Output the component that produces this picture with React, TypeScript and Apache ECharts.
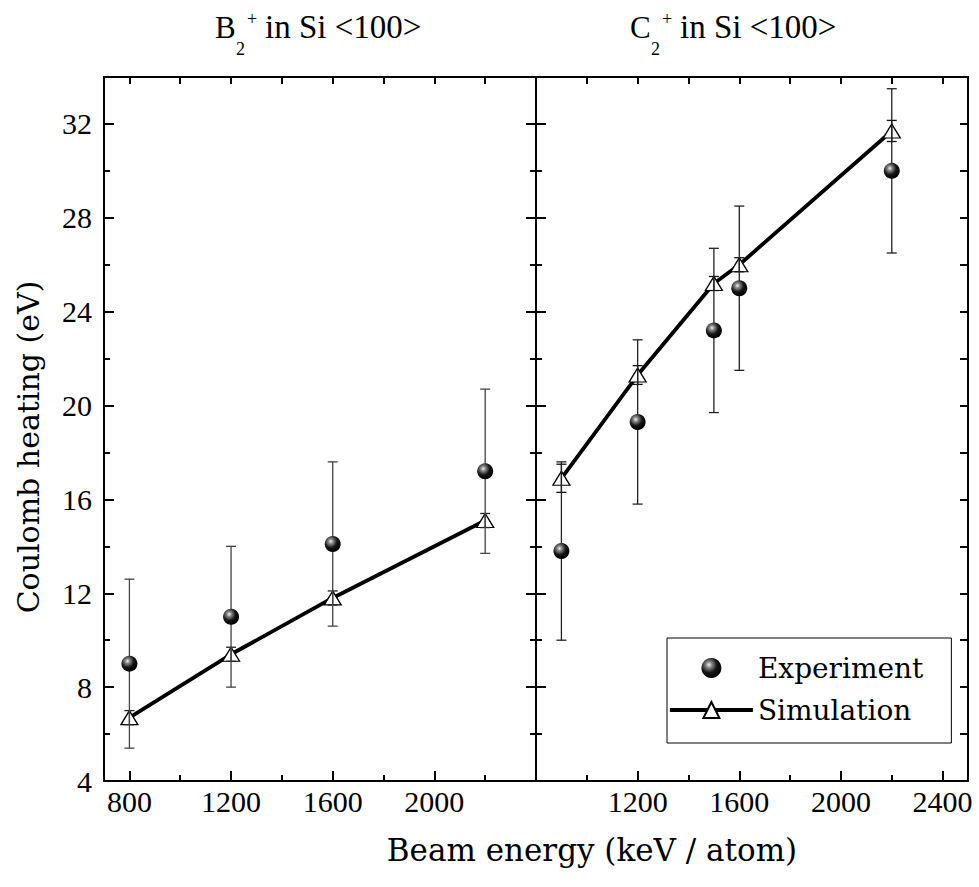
import React, { useEffect, useRef } from 'react';
import * as echarts from 'echarts';

// ---- data: B2+ in Si <100> (left panel) ----
const B_X = [800, 1200, 1600, 2200];
const B_EXP = [9.0, 11.0, 14.1, 17.2];
const B_EXP_ERR = [3.6, 3.0, 3.5, 3.5];
const B_SIM = [6.7, 9.4, 11.8, 15.1];
const B_SIM_ERR = [0.3, 0.3, 0.3, 0.3];

// ---- data: C2+ in Si <100> (right panel) ----
const C_X = [900, 1200, 1500, 1600, 2200];
const C_EXP = [13.8, 19.3, 23.2, 25.0, 30.0];
const C_EXP_ERR = [3.8, 3.5, 3.5, 3.5, 3.5];
const C_SIM = [16.9, 21.3, 25.2, 26.0, 31.7];
const C_SIM_ERR = [0.6, 0.4, 0.3, 0.3, 0.45];

// ---- axes ----
const Y_MIN = 4;
const Y_MAX = 34;
const Y_STEP = 4;
const LEFT_X_RANGE = [700, 2400];
const RIGHT_X_RANGE = [800, 2500];
const X_STEP = 400;

const TITLE_LETTERS = ['B', 'C'];
const TITLE_SUB = '2';
const TITLE_SUP = '+';
const TITLE_REST = 'in Si <100>';
const X_NAME = 'Beam energy (keV / atom)';
const Y_NAME = 'Coulomb heating (eV)';
const LEGEND_NAMES = ['Experiment', 'Simulation'];

const NUM = "'Liberation Serif', 'Times New Roman', serif";
const WORD = "'DejaVu Serif', serif";

const sphere = {
  type: 'radial',
  x: 0.38,
  y: 0.34,
  r: 0.66,
  colorStops: [
    { offset: 0, color: '#f2f2f2' },
    { offset: 0.22, color: '#8a8a8a' },
    { offset: 0.6, color: '#151515' },
    { offset: 1, color: '#000' },
  ],
};

function errData(xs: number[], ys: number[], es: number[]) {
  return xs.map((x, i) => [x, ys[i] - es[i], ys[i] + es[i]]);
}

function errSeries(xi: number, yi: number, data: number[][], color: string, width: number, z: number) {
  return {
    type: 'custom',
    xAxisIndex: xi,
    yAxisIndex: yi,
    z,
    silent: true,
    data,
    encode: { x: 0, y: [1, 2] },
    renderItem: (params: any, api: any) => {
      const x = api.value(0);
      const lo = api.coord([x, api.value(1)]);
      const hi = api.coord([x, api.value(2)]);
      const hw = 5;
      const style = { stroke: color, lineWidth: width };
      return {
        type: 'group',
        children: [
          { type: 'line', shape: { x1: hi[0], y1: hi[1], x2: lo[0], y2: lo[1] }, style },
          { type: 'line', shape: { x1: hi[0] - hw, y1: hi[1], x2: hi[0] + hw, y2: hi[1] }, style },
          { type: 'line', shape: { x1: lo[0] - hw, y1: lo[1], x2: lo[0] + hw, y2: lo[1] }, style },
        ],
      };
    },
  };
}

const axisLine = { show: true, onZero: false, lineStyle: { color: '#000', width: 2 } };

function xAxisDef(grid: number, range: number[], pos: string, labels: boolean, len: number, minorLen: number) {
  return {
    type: 'value',
    gridIndex: grid,
    position: pos,
    min: range[0],
    max: range[1],
    minInterval: X_STEP,
    maxInterval: X_STEP,
    splitNumber: 4,
    axisLine,
    splitLine: { show: false },
    axisTick: { show: true, inside: true, length: len, lineStyle: { color: '#000', width: 2 } },
    minorTick: { show: true, splitNumber: 2, length: minorLen, lineStyle: { color: '#000', width: 2 } },
    axisLabel: {
      show: labels,
      showMinLabel: false,
      showMaxLabel: false,
      margin: 5,
      color: '#000',
      fontFamily: NUM,
      fontSize: 30,
      formatter: (v: number) => String(v),
    },
  };
}

function yAxisDef(grid: number, pos: string, labels: boolean, len: number, minorLen: number) {
  return {
    type: 'value',
    gridIndex: grid,
    position: pos,
    min: Y_MIN,
    max: Y_MAX,
    interval: Y_STEP,
    axisLine,
    splitLine: { show: false },
    axisTick: { show: true, inside: true, length: len, lineStyle: { color: '#000', width: 2 } },
    minorTick: { show: true, splitNumber: 2, length: minorLen, lineStyle: { color: '#000', width: 2 } },
    axisLabel: {
      show: labels,
      showMaxLabel: false,
      margin: 12,
      color: '#000',
      fontFamily: NUM,
      fontSize: 30,
      formatter: (v: number) => String(v),
    },
  };
}

function titleGroup(x0: number, letter: string) {
  const t = (x: number, y: number, text: string, size: number) => ({
    type: 'text',
    x: x0 + x,
    y,
    silent: true,
    style: {
      text,
      fontFamily: NUM,
      fontSize: size,
      fill: '#000',
      align: 'left',
      verticalAlign: 'middle',
    },
  });
  return {
    type: 'group',
    silent: true,
    children: [
      t(0, 27, letter, 31),
      t(21, 49, TITLE_SUB, 18),
      t(32, 19, TITLE_SUP, 18),
      t(50, 27, TITLE_REST, 33),
    ],
  };
}

function simSeries(xi: number, yi: number, xs: number[], ys: number[]) {
  return {
    name: LEGEND_NAMES[1],
    type: 'line',
    xAxisIndex: xi,
    yAxisIndex: yi,
    z: 2,
    data: xs.map((x, i) => [x, ys[i]]),
    symbol: 'triangle',
    symbolSize: [17, 14],
    showAllSymbol: true,
    itemStyle: { color: '#fff', borderColor: '#000', borderWidth: 1.3 },
    lineStyle: { color: '#000', width: 3.8 },
  };
}

function expSeries(xi: number, yi: number, xs: number[], ys: number[]) {
  return {
    name: LEGEND_NAMES[0],
    type: 'scatter',
    xAxisIndex: xi,
    yAxisIndex: yi,
    z: 5,
    data: xs.map((x, i) => [x, ys[i]]),
    symbol: 'circle',
    symbolSize: 16,
    itemStyle: { color: sphere, opacity: 1 },
  };
}

const option: any = {
  animation: false,
  backgroundColor: '#fff',
  grid: [
    { left: 104, top: 77, width: 432, height: 704 },
    { left: 536, top: 77, width: 432, height: 704 },
  ],
  xAxis: [
    xAxisDef(0, LEFT_X_RANGE, 'bottom', true, 10, 6),
    xAxisDef(0, LEFT_X_RANGE, 'top', false, 7, 7),
    xAxisDef(1, RIGHT_X_RANGE, 'bottom', true, 10, 6),
    xAxisDef(1, RIGHT_X_RANGE, 'top', false, 7, 7),
  ],
  yAxis: [
    yAxisDef(0, 'left', true, 10, 6),
    yAxisDef(0, 'right', false, 10, 6),
    yAxisDef(1, 'left', false, 10, 6),
    yAxisDef(1, 'right', false, 8, 8),
  ],
  legend: {
    left: 667,
    top: 638,
    orient: 'vertical',
    selectedMode: false,
    itemWidth: 83,
    itemHeight: 20,
    itemGap: 14,
    padding: [16, 28, 19, 1],
    borderColor: '#000',
    borderWidth: 1,
    borderRadius: 0,
    backgroundColor: '#fff',
    lineStyle: { width: 3.8, color: '#000' },
    textStyle: { fontFamily: WORD, fontSize: 28, color: '#000' },
    data: [{ name: LEGEND_NAMES[0], icon: 'circle' }, { name: LEGEND_NAMES[1] }],
  },
  graphic: [
    titleGroup(215, TITLE_LETTERS[0]),
    titleGroup(630, TITLE_LETTERS[1]),
    {
      type: 'text',
      x: 592,
      y: 850,
      silent: true,
      style: { text: X_NAME, fontFamily: WORD, fontSize: 31, align: 'center', verticalAlign: 'middle', fill: '#000' },
    },
    {
      type: 'text',
      x: 28,
      y: 447,
      rotation: Math.PI / 2,
      silent: true,
      style: { text: Y_NAME, fontFamily: WORD, fontSize: 30, align: 'center', verticalAlign: 'middle', fill: '#000' },
    },
  ],
  series: [
    simSeries(0, 0, B_X, B_SIM),
    errSeries(0, 0, errData(B_X, B_SIM, B_SIM_ERR), '#222', 1.3, 3),
    errSeries(0, 0, errData(B_X, B_EXP, B_EXP_ERR), '#444', 1.3, 4),
    expSeries(0, 0, B_X, B_EXP),
    simSeries(2, 2, C_X, C_SIM),
    errSeries(2, 2, errData(C_X, C_SIM, C_SIM_ERR), '#111', 1.3, 3),
    errSeries(2, 2, errData(C_X, C_EXP, C_EXP_ERR), '#222', 1.3, 4),
    expSeries(2, 2, C_X, C_EXP),
  ],
};

export default function App() {
  const ref = useRef<HTMLDivElement>(null);
  useEffect(() => {
    const chart = echarts.init(ref.current as HTMLDivElement, null, { renderer: 'svg' });
    chart.setOption(option);
    return () => chart.dispose();
  }, []);
  return (
    <div
      ref={ref}
      style={{ position: 'fixed', left: 0, top: 0, width: 979, height: 887, background: '#fff' }}
    />
  );
}
